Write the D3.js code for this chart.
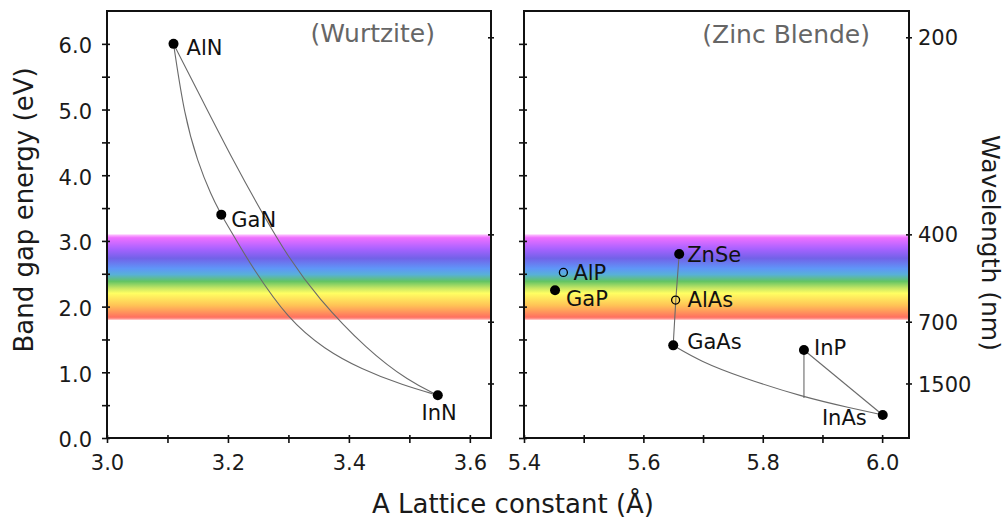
<!DOCTYPE html>
<html>
<head>
<meta charset="utf-8">
<script src="https://cdn.jsdelivr.net/npm/d3@7"></script>
<style>
  body { margin: 0; background: #fff; }
  text { font-family: "DejaVu Sans", Verdana, sans-serif; }
</style>
</head>
<body>
<div id="vis"></div>
<script>
// ---- data ----
const wurtzitePoints = [
  { name: "AlN", a: 3.110, eg: 6.00, open: false },
  { name: "GaN", a: 3.189, eg: 3.40, open: false },
  { name: "InN", a: 3.547, eg: 0.65, open: false }
];
const zincPoints = [
  { name: "AlP",  a: 5.466, eg: 2.52, open: true },
  { name: "GaP",  a: 5.452, eg: 2.25, open: false },
  { name: "ZnSe", a: 5.660, eg: 2.80, open: false },
  { name: "AlAs", a: 5.654, eg: 2.10, open: true },
  { name: "GaAs", a: 5.650, eg: 1.41, open: false },
  { name: "InP",  a: 5.869, eg: 1.34, open: false },
  { name: "InAs", a: 6.001, eg: 0.35, open: false }
];

// alloy curves
const alnGanCurve = [[3.110, 6.00], [3.128, 4.90], [3.150, 4.20], [3.172, 3.70], [3.189, 3.40]];
const ganInnCurve = [[3.189, 3.40], [3.208, 3.10], [3.240, 2.60], [3.300, 1.80], [3.360, 1.35], [3.420, 1.05], [3.490, 0.80], [3.547, 0.65]];
const alnInnCurve = [[3.110, 6.00], [3.160, 5.10], [3.210, 4.20], [3.258, 3.40], [3.300, 2.75], [3.347, 2.15], [3.430, 1.34], [3.500, 0.86], [3.547, 0.65]];
const znseGaasLine = [[5.660, 2.80], [5.654, 2.10], [5.650, 1.41]];
const gaasInasCurve = [[5.650, 1.41], [5.695, 1.17], [5.762, 0.93], [5.869, 0.62], [5.946, 0.46], [6.001, 0.35]];
const inpInasLine = [[5.869, 1.34], [6.001, 0.35]];
const inpDropLine = [[5.869, 1.34], [5.869, 0.61]];

// visible band (eV)
const visibleBand = [1.8, 3.1];

// ticks
const leftXTicks = [3.0, 3.1, 3.2, 3.3, 3.4, 3.5, 3.6];
const leftXLabels = [3.0, 3.2, 3.4, 3.6];
const rightXTicks = [5.4, 5.5, 5.6, 5.7, 5.8, 5.9, 6.0];
const rightXLabels = [5.4, 5.6, 5.8, 6.0];
const yTicks = [0, 0.5, 1, 1.5, 2, 2.5, 3, 3.5, 4, 4.5, 5, 5.5, 6];
const yLabels = [0, 1, 2, 3, 4, 5, 6];
const wavelengthTicks = [200, 400, 700, 1500];
const wavelengthTickEnergy = [6.1, 3.1, 1.77, 0.83];

// ---- layout ----
const width = 1007, height = 521;
const yTop = 11, yBottom = 438;
const left = { x0: 107, x1: 491 };
const right = { x0: 524, x1: 909 };

const labelOffset = {
  AlN: [13, 11, "start"], GaN: [10, 12, "start"], InN: [19, 25, "end"],
  AlP: [10, 8, "start"], GaP: [11, 16, "start"], ZnSe: [8, 8, "start"],
  AlAs: [12, 7, "start"], GaAs: [14, 4, "start"], InP: [10, 5, "start"],
  InAs: [-16, 10, "end"]
};

const rainbowStops = [
  [0, "#ffc8ff"], [0.04, "#ee70ff"], [0.17, "#a862ff"], [0.28, "#7262e8"],
  [0.40, "#5f96f8"], [0.47, "#58b0d8"], [0.55, "#62c464"], [0.63, "#c6e664"],
  [0.69, "#ffff62"], [0.83, "#ffc456"], [0.97, "#ff7060"], [1, "#ffb0b0"]
];

const svg = d3.select("#vis").append("svg")
  .attr("width", width)
  .attr("height", height);

const defs = svg.append("defs");
const grad = defs.append("linearGradient")
  .attr("id", "rainbow")
  .attr("x1", 0).attr("y1", 0).attr("x2", 0).attr("y2", 1);
rainbowStops.forEach(s => grad.append("stop").attr("offset", s[0]).attr("stop-color", s[1]));

const y = d3.scaleLinear().domain([0, 6.5]).range([yBottom, yTop]);
const fmt = d3.format(".1f");

function drawPanel(p, domain, xTicks, xLabels, points, curves, showYLabels, showWl) {
  const x = d3.scaleLinear().domain(domain).range([p.x0, p.x1]);
  const g = svg.append("g");

  // visible band
  g.append("rect")
    .attr("x", p.x0).attr("width", p.x1 - p.x0)
    .attr("y", y(visibleBand[1]))
    .attr("height", y(visibleBand[0]) - y(visibleBand[1]))
    .attr("fill", "url(#rainbow)");

  // curves
  const line = d3.line().x(d => x(d[0])).y(d => y(d[1])).curve(d3.curveBasis);
  curves.forEach(c => {
    g.append("path").datum(c)
      .attr("d", line)
      .attr("fill", "none")
      .attr("stroke", "#6a6a6a")
      .attr("stroke-width", 1.1);
  });

  // frame
  g.append("rect")
    .attr("x", p.x0).attr("y", yTop)
    .attr("width", p.x1 - p.x0).attr("height", yBottom - yTop)
    .attr("fill", "none").attr("stroke", "#111").attr("stroke-width", 2);

  // x axis
  const xa = g.append("g")
    .attr("transform", `translate(0,${yBottom})`)
    .call(d3.axisBottom(x).tickValues(xTicks).tickSize(5).tickPadding(12)
      .tickFormat(d => xLabels.includes(d) ? fmt(d) : ""));
  xa.select(".domain").remove();
  xa.selectAll("line").attr("y1", -3).attr("y2", 5).attr("stroke", "#111").attr("stroke-width", 1.6);
  xa.selectAll("text").attr("font-size", 21).attr("fill", "#1a1a1a").attr("font-family", "DejaVu Sans");

  // y axis (left)
  const ya = g.append("g")
    .attr("transform", `translate(${p.x0},0)`)
    .call(d3.axisLeft(y).tickValues(yTicks).tickSize(5).tickPadding(10)
      .tickFormat(d => showYLabels && yLabels.includes(d) ? fmt(d) : ""));
  ya.select(".domain").remove();
  ya.selectAll("line").attr("x1", 3).attr("x2", -5).attr("stroke", "#111").attr("stroke-width", 1.6);
  ya.selectAll("text").attr("font-size", 21).attr("fill", "#1a1a1a").attr("dy", "0.42em")
    .attr("font-family", "DejaVu Sans");

  // wavelength ticks (right spine)
  const wa = g.append("g")
    .attr("transform", `translate(${p.x1},0)`)
    .call(d3.axisRight(y).tickValues(wavelengthTickEnergy).tickSize(3).tickPadding(6)
      .tickFormat((d, i) => showWl ? wavelengthTicks[i] : ""));
  wa.select(".domain").remove();
  wa.selectAll("line").attr("x1", -3).attr("x2", 3).attr("stroke", "#111").attr("stroke-width", 1.6);
  wa.selectAll("text").attr("font-size", 21).attr("fill", "#1a1a1a").attr("dy", "0.36em")
    .attr("font-family", "DejaVu Sans");

  // points
  g.selectAll("circle.pt").data(points).enter().append("circle")
    .attr("class", "pt")
    .attr("cx", d => x(d.a)).attr("cy", d => y(d.eg))
    .attr("r", d => d.open ? 4 : 5)
    .attr("fill", d => d.open ? "none" : "#000")
    .attr("stroke", "#000")
    .attr("stroke-width", d => d.open ? 1.3 : 0);

  g.selectAll("text.lbl").data(points).enter().append("text")
    .attr("class", "lbl")
    .attr("x", d => x(d.a) + labelOffset[d.name][0])
    .attr("y", d => y(d.eg) + labelOffset[d.name][1])
    .attr("text-anchor", d => labelOffset[d.name][2])
    .attr("font-size", 21)
    .attr("fill", "#111")
    .text(d => d.name);

  return g;
}

drawPanel(left, [3.0, 3.635], leftXTicks, leftXLabels, wurtzitePoints,
  [alnGanCurve, ganInnCurve, alnInnCurve], true, false);
drawPanel(right, [5.4, 6.045], rightXTicks, rightXLabels, zincPoints,
  [znseGaasLine, gaasInasCurve, inpInasLine, inpDropLine], false, true);

// panel titles
svg.append("text")
  .attr("x", 435).attr("y", 42)
  .attr("text-anchor", "end")
  .attr("font-size", 25)
  .attr("fill", "#666")
  .text("(Wurtzite)");

svg.append("text")
  .attr("x", 870).attr("y", 43)
  .attr("text-anchor", "end")
  .attr("font-size", 25)
  .attr("fill", "#666")
  .text("(Zinc Blende)");

// axis titles
svg.append("text")
  .attr("transform", "translate(33,210) rotate(-90)")
  .attr("text-anchor", "middle")
  .attr("font-size", 26)
  .attr("fill", "#1a1a1a")
  .text("Band gap energy (eV)");

svg.append("text")
  .attr("x", 513).attr("y", 513)
  .attr("text-anchor", "middle")
  .attr("font-size", 26)
  .attr("fill", "#1a1a1a")
  .text("A Lattice constant (Å)");

svg.append("text")
  .attr("transform", "translate(982,243) rotate(90)")
  .attr("text-anchor", "middle")
  .attr("font-size", 25)
  .attr("fill", "#1a1a1a")
  .text("Wavelength (nm)");
</script>
</body>
</html>
